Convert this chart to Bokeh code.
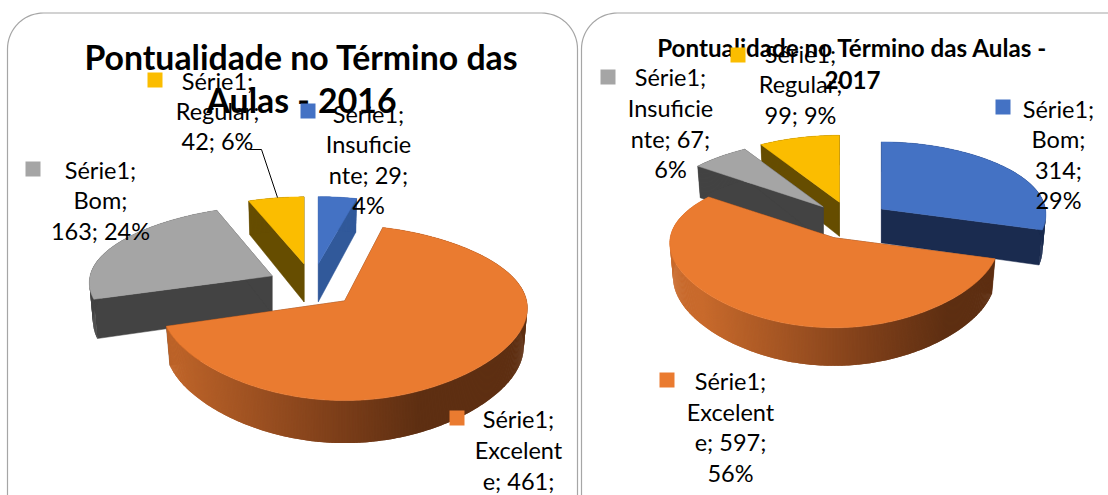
import math
from bokeh.plotting import figure
from bokeh.models import Range1d
from bokeh.core.properties import value
from bokeh.embed import file_html
from bokeh.resources import INLINE

# --- data ---
categories_2016 = ["Insuficiente", "Excelente", "Bom", "Regular"]
values_2016 = [29, 461, 163, 42]
categories_2017 = ["Bom", "Excelente", "Insuficiente", "Regular"]
values_2017 = [314, 597, 67, 99]
title_2016 = ["Pontualidade no Término das", "Aulas - 2016"]
title_2017 = ["Pontualidade no Término das Aulas -", "2017"]
labels_2016 = {
    "Insuficiente": ["Série1;", "Insuficie", "nte; 29;", "4%"],
    "Excelente": ["Série1;", "Excelent", "e; 461;"],
    "Bom": ["Série1;", "Bom;", "163; 24%"],
    "Regular": ["Série1;", "Regular;", "42; 6%"],
}
labels_2017 = {
    "Bom": ["Série1;", "Bom;", "314;", "29%"],
    "Excelente": ["Série1;", "Excelent", "e; 597;", "56%"],
    "Insuficiente": ["Série1;", "Insuficie", "nte; 67;", "6%"],
    "Regular": ["Série1;", "Regular;", "99; 9%"],
}

# --- styles ---
FONT = "Lato"
TOP = {"Insuficiente": "#4472C4", "Excelente": "#EA7B30", "Bom": "#A5A5A5", "Regular": "#FBBD00"}
CUT_2016 = {"Insuficiente": "#31599A", "Excelente": "#5E2F12", "Bom": "#434343", "Regular": "#664D00"}
TOP_2017 = {"Bom": "#4472C4", "Excelente": "#EA7B30", "Insuficiente": "#A5A5A5", "Regular": "#FBBD00"}
CUT_2017 = {"Bom": "#1A2B4F", "Excelente": "#5E2F12", "Insuficiente": "#434343", "Regular": "#664D00"}

p = figure(width=1108, height=495, output_backend="svg", toolbar_location=None,
           x_range=Range1d(0, 1108), y_range=Range1d(495, 0),
           min_border=0, outline_line_color=None, background_fill_color="white",
           margin=(0, 0, 0, 0))
p.axis.visible = False
p.grid.visible = False


def card(x0, x1, y0, y1, r=36):
    xs, ys = [], []
    for cx, cy, a0 in [(x0 + r, y0 + r, 180), (x1 - r, y0 + r, 270)]:
        for i in range(0, 19):
            a = math.radians(a0 + i * 5)
            xs.append(cx + r * math.cos(a))
            ys.append(cy + r * math.sin(a))
    xs = [x0] + xs + [x1]
    ys = [y1] + ys + [y1]
    p.line(xs, ys, line_color="#A6A6A6", line_width=1.2)


def mix(c1, c2, t):
    return "#%02x%02x%02x" % tuple(round(a + (b - a) * t) for a, b in zip(c1, c2))


def rim_color(f):
    l, m, r = (200, 106, 44), (128, 64, 26), (94, 47, 18)
    if f < 0.5:
        return mix(l, m, f / 0.5)
    return mix(m, r, min(1, (f - 0.5) / 0.25))


def pie(cats, vals, order, top, cut, C, E, a, bf, bb, sback, d0, yk):
    total = sum(vals)
    spans, ang = {}, 0.0
    for c, v in zip(cats, vals):
        spans[c] = (ang, ang + v / total * 360)
        ang += v / total * 360

    def ring(th, ax, ay, ys):
        t = math.radians(th)
        u, v = math.sin(t), math.cos(t)
        k = (1 - sback) / 2
        sx = 1 - k * v - k * v * v
        bm, db = (bf + bb) / 2, (bf - bb) / 2
        x = ax + a * u * sx
        y = ay - ys * v * (bm - db * v)
        d = d0 * (1 - 0.12 * v)
        return x, y, ax + (x - ax) * 0.98, y + d

    for c in order:
        s, e = spans[c]
        m = math.radians((s + e) / 2)
        ax, ay = C[0] + E[0] * math.sin(m), C[1] - E[1] * math.cos(m)
        ys = 1 - yk * math.cos(m)
        n = max(2, int(e - s) * 2)
        ths = [s + (e - s) * i / n for i in range(n + 1)]
        pts = [ring(t, ax, ay, ys) for t in ths]
        # cut faces
        for q in (pts[0], pts[-1]):
            p.patch([ax, q[0], q[2], ax], [ay, q[1], q[3], ay + d0],
                    fill_color=cut[c], line_color=cut[c], line_width=0.5)
        # outer wall: strips overlap the next one so that no seams show
        xs, ys_, cols = [], [], []
        for i in range(len(pts) - 1):
            q0, q1 = pts[i], pts[min(i + 2, len(pts) - 1)]
            xs.append([q0[0], q1[0], q1[2], q0[2]])
            ys_.append([q0[1], q1[1], q1[3], q0[3]])
            if c == "Excelente":
                f = (q0[0] - (C[0] - a * 0.9)) / (a * 2)
                cols.append(rim_color(max(0, min(1, f))))
            else:
                cols.append(cut[c])
        p.patches(xs[::-1], ys_[::-1], fill_color=cols[::-1], line_color=None)
        # top face
        p.patch([ax] + [q[0] for q in pts], [ay] + [q[1] for q in pts],
                fill_color=top[c], line_color=top[c], line_width=0.5)


def lines(x, y, txts, size, pitch, style="normal"):
    ys = [y + i * pitch for i in range(len(txts))]
    p.text([x] * len(txts), ys, text=txts, text_font=value(FONT),
           text_font_size=size, text_font_style=style, text_color="#000000",
           text_align="center", text_baseline="alphabetic")


def marker(x, y, col, s=15):
    p.quad(left=[x], right=[x + s], top=[y], bottom=[y + s], fill_color=col, line_color=None)


card(7, 577, 12.5, 540)
card(581, 1180, 12.5, 540)

pie(categories_2016, values_2016, ["Insuficiente", "Regular", "Bom", "Excelente"],
    TOP, CUT_2016, (312, 285), (45, 22), 182, 95, 72, 0.8, 38, 0.07)
pie(categories_2017, values_2017, ["Regular", "Insuficiente", "Bom", "Excelente"],
    TOP_2017, CUT_2017, (850, 220), (39, 19), 164, 90, 67, 0.84, 34, 0.0)

p.line([249, 261, 277], [149, 149, 197], line_color="#000000", line_width=1)

LS = "23.5px"
lines(301, 56.5, title_2016, "33.8px", 43, "bold")
lines(852, 47, title_2017, "24.2px", 32, "bold")

lines(217, 80, labels_2016["Regular"], LS, 30.4)
lines(368, 113, labels_2016["Insuficiente"], LS, 30.6)
lines(100, 169, labels_2016["Bom"], LS, 30.6)
lines(518, 418, labels_2016["Excelente"], LS, 31)
lines(800, 53, labels_2017["Regular"], LS, 30.6)
lines(670, 76.5, labels_2017["Insuficiente"], LS, 30.8)
lines(1058, 108, labels_2017["Bom"], LS, 30.6)
lines(730, 380.5, labels_2017["Excelente"], LS, 30.6)

marker(147, 72, TOP["Regular"])
marker(300, 103, TOP["Insuficiente"])
marker(25, 161, TOP["Bom"])
marker(449, 410, TOP["Excelente"])
marker(730, 47, TOP_2017["Regular"])
marker(600, 69, TOP_2017["Insuficiente"])
marker(995, 99, TOP_2017["Bom"])
marker(659, 372, TOP_2017["Excelente"])

open("out.html", "w").write(file_html(p, INLINE))
